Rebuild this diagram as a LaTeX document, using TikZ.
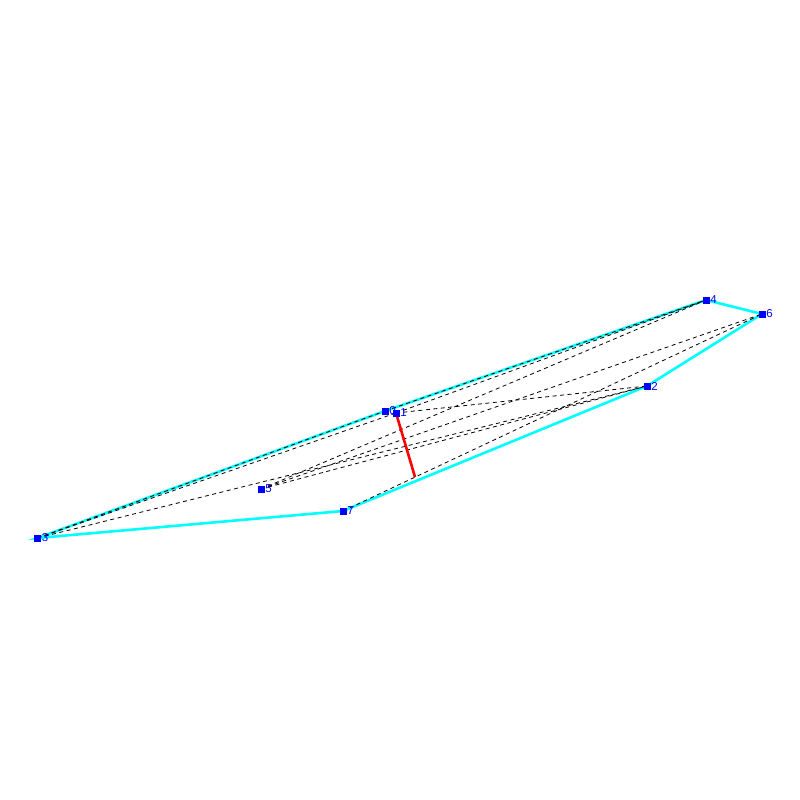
\documentclass[tikz,border=0pt]{standalone}
\usepackage{fontspec}
\setmainfont{Liberation Sans}
\usetikzlibrary{calc}
\begin{document}
\begin{tikzpicture}[x=1pt,y=-1pt,
  hull/.style={draw={rgb,255:red,0;green,255;blue,255}, line width=2.6pt},
  diag/.style={draw=black, line width=0.8pt, dash pattern=on 4pt off 3.5pt},
  redl/.style={draw=red, line width=2.6pt},
  pt/.style={rectangle, fill={rgb,255:red,0;green,0;blue,255}, minimum size=7pt, inner sep=0pt},
  lbl/.style={anchor=west, inner sep=0.6pt, text={rgb,255:red,0;green,0;blue,255}, font=\fontsize{11.5}{11.5}\selectfont}]
\useasboundingbox (0,0) rectangle (800,800);
\coordinate (p0) at (385,411);
\coordinate (p1) at (396,413);
\coordinate (p2) at (647,386);
\coordinate (p3) at (37.5,538);
\coordinate (p4) at (706,300);
\coordinate (p5) at (261,489);
\coordinate (p6) at (762,314);
\coordinate (p7) at (343,511);
\coordinate (r) at (415,477);
% hull
\draw[hull] (p3) -- (p0) -- (p4) -- (p6) -- (p2) -- (p7) -- cycle;
% dashed diagonals
\draw[diag] (p3) -- (p0);
\draw[diag] (p3) -- (p1);
\draw[diag] (p3) -- (p2);
\draw[diag] (p1) -- (p4);
\draw[diag] (p1) -- (p2);
\draw[diag] (p5) -- (p4);
\draw[diag] (p5) -- (p6);
\draw[diag] (p5) -- (p2);
\draw[diag] (p7) -- (p6);
\draw[diag] (p0) -- (p4);
% red
\draw[redl] (p1) -- (r);
% labels, then squares on top
\node[lbl] (l0) at ($(p0)+(3.5,0)$) {0};
\node[lbl] (l1) at ($(p1)+(3.5,0)$) {1};
\node[lbl] (l2) at ($(p2)+(3.5,0)$) {2};
\node[lbl] (l3) at ($(p3)+(3.5,0)$) {3};
\node[lbl] (l4) at ($(p4)+(3.5,0)$) {4};
\node[lbl] (l5) at ($(p5)+(3.5,0)$) {5};
\node[lbl] (l6) at ($(p6)+(3.5,0)$) {6};
\node[lbl] (l7) at ($(p7)+(3.5,0)$) {7};
\foreach \n in {0,...,7} { \node[pt] (s\n) at (p\n) {}; }
\end{tikzpicture}
\end{document}
